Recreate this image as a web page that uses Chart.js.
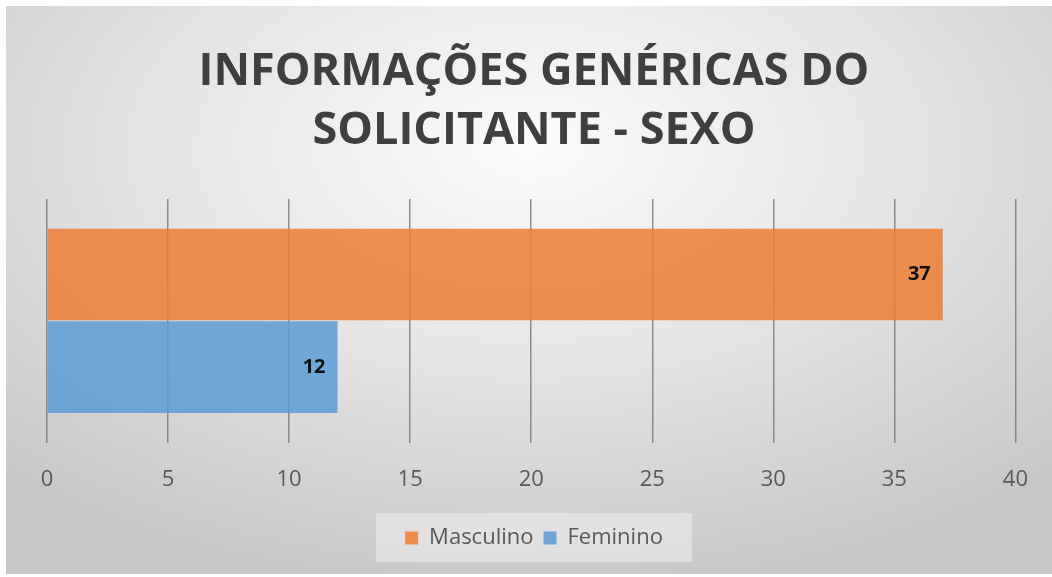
<!DOCTYPE html>
<html>
<head>
<meta charset="utf-8">
<script src="https://cdn.jsdelivr.net/npm/chart.js@4.4.1/dist/chart.umd.min.js"></script>
<style>
  html, body { margin: 0; padding: 0; background: #fff; }
  #box {
    position: absolute; left: 6px; top: 6px; width: 1046px; height: 568px;
    background: radial-gradient(ellipse 75% 80% at 50% 25%, #fbfbfb 0%, #e6e6e6 45%, #c6c6c6 100%);
  }
</style>
</head>
<body>
<div id="box"><canvas id="chart" width="1046" height="568"></canvas></div>
<script>
const categories = ['Sexo'];
const seriesNames = ['Masculino', 'Feminino'];
const masculino = [37];
const feminino = [12];
const xTicks = [0, 5, 10, 15, 20, 25, 30, 35, 40];

const FONT = '"Open Sans", sans-serif';

// value labels at the inner end of each bar
const barLabels = {
    id: 'barLabels',
    afterDatasetsDraw(chart) {
        const ctx = chart.ctx;
        ctx.save();
        ctx.font = 'bold 20px ' + FONT;
        ctx.fillStyle = '#111';
        ctx.textAlign = 'right';
        ctx.textBaseline = 'middle';
        chart.data.datasets.forEach((ds, di) => {
            chart.getDatasetMeta(di).data.forEach((bar, i) => {
                ctx.fillText(ds.data[i], bar.x - 12, bar.y);
            });
        });
        ctx.restore();
    }
};

// light box behind the legend
const legendBg = {
    id: 'legendBg',
    beforeDraw(chart) {
        const lg = chart.legend;
        if (!lg) return;
        const ctx = chart.ctx;
        ctx.save();
        ctx.fillStyle = 'rgba(240,240,240,0.55)';
        const cx = (lg.left + lg.right) / 2;
        const cy = (lg.top + lg.bottom) / 2;
        ctx.fillRect(cx - 158, cy - 25, 316, 49);
        ctx.restore();
    }
};

new Chart(document.getElementById('chart'), {
    type: 'bar',
    data: {
        labels: categories,
        datasets: [
            {
                label: seriesNames[0],
                data: masculino,
                backgroundColor: 'rgba(237,125,49,0.85)',
                barPercentage: 0.99,
                categoryPercentage: 0.76
            },
            {
                label: seriesNames[1],
                data: feminino,
                backgroundColor: 'rgba(91,155,213,0.85)',
                barPercentage: 0.99,
                categoryPercentage: 0.76
            }
        ]
    },
    options: {
        indexAxis: 'y',
        responsive: false,
        animation: false,
        devicePixelRatio: 1,
        layout: { padding: { left: 41, right: 31, top: 0, bottom: 15 } },
        scales: {
            x: {
                min: 0,
                max: 40,
                afterBuildTicks(scale) {
                    scale.ticks = xTicks.map(v => ({ value: v }));
                },
                grid: { color: 'rgba(110,110,110,0.75)', lineWidth: 1.5, drawTicks: false },
                border: { display: false },
                ticks: { color: '#595959', font: { family: FONT, size: 22 }, padding: 24 }
            },
            y: {
                display: false
            }
        },
        plugins: {
            title: {
                display: true,
                text: ['INFORMAÇÕES GENÉRICAS DO', 'SOLICITANTE - SEXO'],
                color: '#3f3f3f',
                font: { family: FONT, size: 45, weight: 'bold', lineHeight: 1.3 },
                padding: { top: 37, bottom: 39 }
            },
            legend: {
                position: 'bottom',
                labels: {
                    color: '#595959',
                    font: { family: FONT, size: 22 },
                    boxWidth: 13,
                    boxHeight: 13,
                    padding: 10
                }
            },
            tooltip: { enabled: false }
        }
    },
    plugins: [barLabels, legendBg]
});
</script>
</body>
</html>
